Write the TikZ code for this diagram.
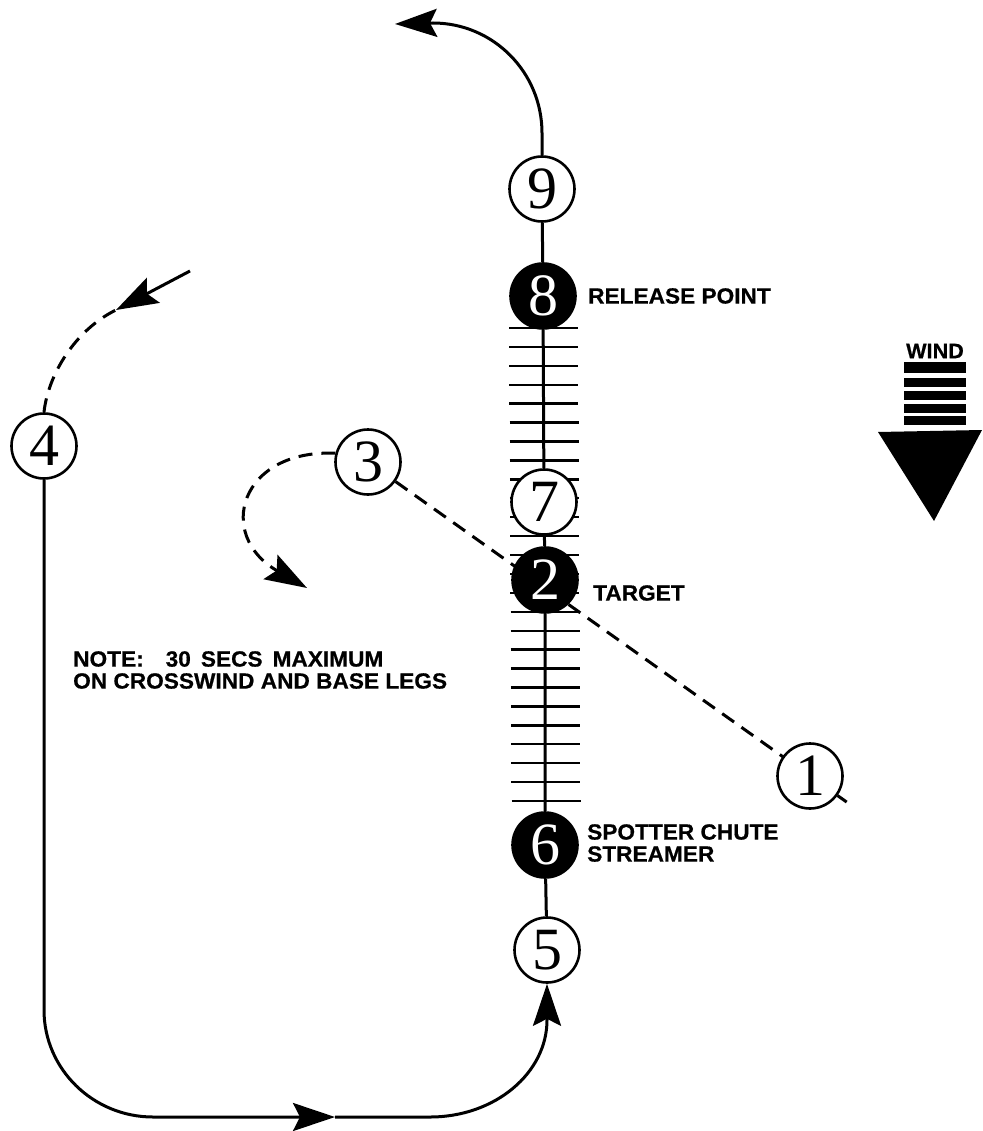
\documentclass[tikz,border=0pt]{standalone}
\usepackage{fontspec}
\usetikzlibrary{arrows.meta,calc}
\newfontfamily\labfont{Liberation Sans}[FakeStretch=1.03,FakeBold=0.6]
\newfontfamily\numfont{Liberation Serif}
\pgfdeclarelayer{bg}
\pgfsetlayers{bg,main}
\begin{document}
\begin{tikzpicture}[x=1pt,y=-1pt,
  ln/.style={line width=3pt},
  stop/.style={circle,draw,line width=2.6pt,minimum size=65pt,inner sep=0pt,
    fill=white,font=\numfont\fontsize{60}{60}\selectfont},
  solidstop/.style={stop,fill=black,text=white},
  lab/.style={anchor=west,inner sep=0pt,align=left,
    font=\labfont\bfseries\fontsize{22}{22}\selectfont},
  tip/.style={ln,-{Stealth[length=42pt,width=28pt,inset=7pt]}},
  dsh/.style={ln,dash pattern=on 14pt off 9pt},
  rung/.style={line width=2.4pt}]
\useasboundingbox (0,0) rectangle (982,1131);

% jump run stops
\node[stop]      (n9) at (542,189) {9};
\node[solidstop] (n8) at (543,296) {8};
\node[stop]      (n7) at (544,502) {7};
\node[solidstop] (n2) at (545,580) {2};
\node[solidstop] (n6) at (545,845) {6};
\node[stop]      (n5) at (547,950) {5};
\node[stop]      (n1) at (810,776) {1};
\node[stop]      (n3) at (368,462) {3};
\node[stop]      (n4) at (44,446)  {4};

% free ends of the open paths
\coordinate (exit)  at (395,24);
\coordinate (entry) at (190,271);
\coordinate (entryend) at (116,310);
\coordinate (turn3) at (307,588);
\coordinate (bmid)  at (335,1117);

\begin{pgfonlayer}{bg}
  % ladder marks along the run
  \foreach \i in {0,...,25}{
    \pgfmathsetmacro\yy{328+18.92*\i}
    \pgfmathsetmacro\xx{543.5+2.5*\i/25}
    \draw[rung] (\xx-34.5,\yy) -- (\xx+34.5,\yy);
  }
  % dashed line from 3 through the target to 1
  \draw[ln,dash pattern=on 14.5pt off 9.07pt] (n3) -- ($(n3.center)!1.083!(n1.center)$);
\end{pgfonlayer}

% center line
\draw[ln] (n9) -- (n8) -- (n7) -- (n2) -- (n6) -- (n5);

% exit turn above 9
\draw[tip] (n9.north) -- (542,133) .. controls (542,72) and (493,23) .. (433,23) -- (exit);

% entry to 4
\draw[tip] (entry) -- (entryend);
\draw[dsh] (n4.north) .. controls (48,375) and (75,330) .. (entryend);

% turn after 3
\draw[dsh,tip] (n3.165) .. controls (240,449) and (215,535) .. (turn3);

% downwind, base and final to 5
\draw[tip] (n4) -- (44,1010) .. controls (44,1069) and (93,1117) .. (153,1117) -- (bmid);
\draw[tip] (bmid) -- (430,1117) .. controls (495,1117) and (547,1073) .. (547,1020) -- (n5);

% labels
\node[lab] (lrel)  at (588,296) {RELEASE POINT};
\node[lab] (ltar)  at (593,593) {TARGET};
\node[lab] (lspot) at (587,843) {SPOTTER CHUTE\\STREAMER};
\node[lab] (note)  at (73,670)  {NOTE:\hspace{22pt}30\hspace{10pt}SECS\hspace{10pt}MAXIMUM\\ON CROSSWIND AND BASE LEGS};

% wind arrow
\node[lab,anchor=center,font=\labfont\bfseries\fontsize{21}{21}\selectfont] (wind) at (935,351) {WIND};
\foreach \a/\b in {362/373,378/387,391/400,404/413,416/425}
  \fill (904,\a) rectangle (966,\b);
\fill (878,432) -- (982,430) -- (934,521) -- cycle;
\end{tikzpicture}
\end{document}
